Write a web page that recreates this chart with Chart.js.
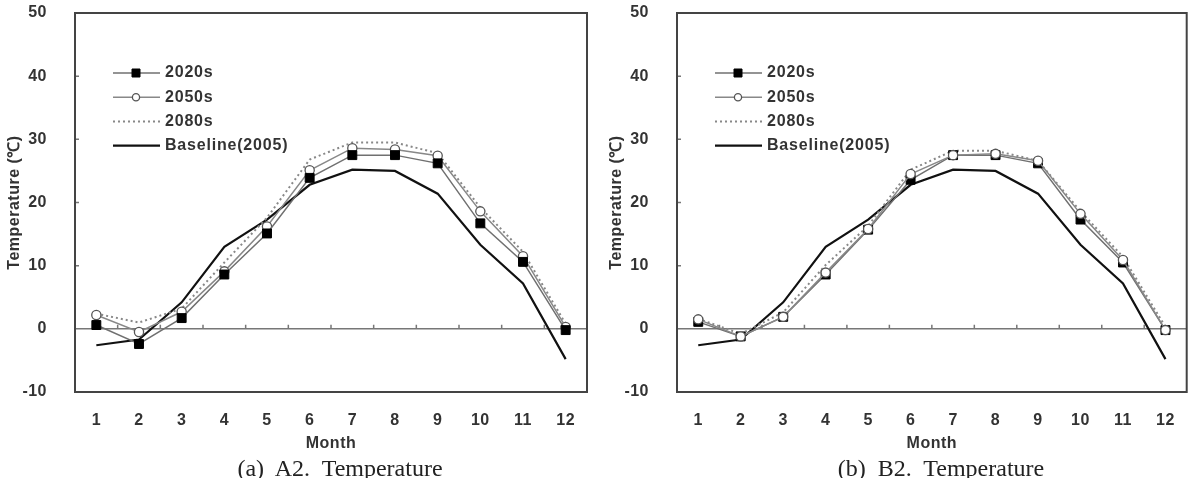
<!DOCTYPE html>
<html>
<head>
<meta charset="utf-8">
<script src="https://cdn.jsdelivr.net/npm/chart.js@4/dist/chart.umd.min.js"></script>
<style>
  html, body { margin: 0; padding: 0; background: #fff; }
  body { width: 1194px; height: 478px; overflow: hidden; position: relative; }
  .panel { position: absolute; top: 0; width: 597px; height: 478px; }
  .caption {
    position: absolute; top: 455px; width: 400px; text-align: center;
    font-family: "Liberation Serif", serif; font-size: 24px; color: #222;
    white-space: pre;
  }
</style>
</head>
<body>
<div class="panel" style="left:0"><canvas id="chartA"></canvas></div>
<div class="panel" style="left:597px"><canvas id="chartB"></canvas></div>
<div class="caption" style="left:140px">(a)  A2.  Temperature</div>
<div class="caption" style="left:741px">(b)  B2.  Temperature</div>
<script>
const months = ["1", "2", "3", "4", "5", "6", "7", "8", "9", "10", "11", "12"];
const seriesNames = ["2020s", "2050s", "2080s", "Baseline(2005)"];

const baseline = [-2.6, -1.7, 4.2, 13.0, 17.3, 22.8, 25.2, 25.0, 21.4, 13.3, 7.2, -4.8];

const a2_2020s = [0.6, -2.4, 1.7, 8.6, 15.1, 23.9, 27.5, 27.5, 26.2, 16.7, 10.6, -0.2];
const a2_2050s = [2.2, -0.5, 2.7, 9.1, 16.2, 25.1, 28.6, 28.4, 27.4, 18.6, 11.5, 0.3];
const a2_2080s = [2.4, 1.0, 3.2, 10.5, 17.6, 26.8, 29.5, 29.5, 27.8, 19.2, 12.2, 0.8];

const b2_2020s = [1.1, -1.2, 1.9, 8.6, 15.7, 23.6, 27.5, 27.5, 26.2, 17.3, 10.5, -0.2];
const b2_2050s = [1.5, -1.2, 1.9, 8.9, 15.8, 24.5, 27.5, 27.7, 26.6, 18.2, 10.9, -0.2];
const b2_2080s = [1.6, -0.8, 2.6, 10.1, 16.3, 25.2, 28.2, 28.2, 26.6, 18.6, 11.4, 0.3];

const FONT = "'Liberation Sans', Arial, sans-serif";

// zero line with small category ticks, inward y ticks, legend, frame
const axisLines = {
  id: "axisLines",
  beforeDraw(chart) {
    chart.ctx.letterSpacing = "0.5px";
  },
  beforeDatasetsDraw(chart) {
    const { ctx, chartArea: a, scales: { x, y } } = chart;
    const y0 = y.getPixelForValue(0);
    ctx.save();
    ctx.strokeStyle = "#777";
    ctx.lineWidth = 1.5;
    ctx.beginPath();
    ctx.moveTo(a.left, y0);
    ctx.lineTo(a.right, y0);
    for (let i = 0; i < months.length - 1; i++) {
      const tx = (x.getPixelForValue(i) + x.getPixelForValue(i + 1)) / 2;
      ctx.moveTo(tx, y0);
      ctx.lineTo(tx, y0 - 4);
    }
    y.ticks.forEach((t) => {
      const ty = y.getPixelForValue(t.value);
      ctx.moveTo(a.left, ty);
      ctx.lineTo(a.left + 4, ty);
    });
    ctx.stroke();
    ctx.restore();
  },
  afterDatasetsDraw(chart) {
    const { ctx, chartArea: a } = chart;
    const x0 = a.left + 38;
    let yy = a.top + 60;
    chart.data.datasets.forEach((ds) => {
      ctx.save();
      ctx.strokeStyle = ds.borderColor;
      ctx.lineWidth = ds.borderWidth;
      ctx.setLineDash(ds.borderDash || []);
      ctx.beginPath();
      ctx.moveTo(x0, yy);
      ctx.lineTo(x0 + 47, yy);
      ctx.stroke();
      ctx.setLineDash([]);
      if (ds.pointRadius > 0) {
        const cx = x0 + 23;
        ctx.fillStyle = ds.pointBackgroundColor;
        ctx.strokeStyle = ds.pointBorderColor;
        ctx.lineWidth = ds.pointBorderWidth;
        ctx.beginPath();
        if (ds.pointStyle === "rect") {
          ctx.rect(cx - 4, yy - 4, 8, 8);
        } else {
          ctx.arc(cx, yy, 3.6, 0, Math.PI * 2);
        }
        ctx.fill();
        ctx.stroke();
      }
      ctx.fillStyle = "#333";
      ctx.font = "bold 16px " + FONT;
      ctx.letterSpacing = "0.8px";
      ctx.textBaseline = "middle";
      ctx.fillText(ds.label, x0 + 52, yy);
      ctx.restore();
      yy += 24.2;
    });
  },
  afterDraw(chart) {
    const { ctx, chartArea: a } = chart;
    ctx.save();
    ctx.strokeStyle = "#444";
    ctx.lineWidth = 2;
    ctx.strokeRect(a.left, a.top, a.right - a.left, a.bottom - a.top);
    ctx.restore();
  },
};

function makeDatasets(s2020, s2050, s2080, squaresOnTop) {
  return [
    {
      label: seriesNames[0], data: s2020, order: squaresOnTop ? 0 : 1,
      borderColor: "#707070", borderWidth: 1.5,
      pointStyle: "rect", pointRadius: 6.3, pointBackgroundColor: "#000",
      pointBorderColor: "#000", pointBorderWidth: 1,
    },
    {
      label: seriesNames[1], data: s2050, order: squaresOnTop ? 1 : 0,
      borderColor: "#888", borderWidth: 1.5,
      pointStyle: "circle", pointRadius: 4.6, pointBackgroundColor: "#fff",
      pointBorderColor: "#555", pointBorderWidth: 1.3,
    },
    {
      label: seriesNames[2], data: s2080, order: 2,
      borderColor: "#888", borderWidth: 2, borderDash: [2, 3],
      pointRadius: 0,
    },
    {
      label: seriesNames[3], data: baseline, order: 3,
      borderColor: "#111", borderWidth: 2.2,
      pointRadius: 0,
    },
  ];
}

function makeChart(id, datasets, padLeft, padRight) {
  return new Chart(document.getElementById(id), {
    type: "line",
    data: { labels: months, datasets },
    options: {
      responsive: true,
      maintainAspectRatio: false,
      animation: false,
      layout: { padding: { top: 13, left: padLeft, right: padRight, bottom: 0 } },
      elements: { line: { tension: 0 } },
      plugins: { legend: { display: false }, tooltip: { enabled: false } },
      scales: {
        x: {
          offset: true,
          grid: { display: false },
          border: { display: false },
          ticks: { color: "#333", font: { family: FONT, size: 16, weight: "bold" }, padding: 11, maxRotation: 0 },
          title: {
            display: true, text: "Month", color: "#333",
            font: { family: FONT, size: 16, weight: "bold" },
            padding: { top: 4, bottom: 25 },
          },
          afterFit(scale) {
            scale.height = 86;
            scale.paddingLeft = 0;
            scale.paddingRight = 0;
          },
        },
        y: {
          min: -10, max: 50,
          grid: { display: false },
          border: { display: false },
          ticks: { stepSize: 10, color: "#333", font: { family: FONT, size: 16, weight: "bold" }, padding: 20 },
          title: {
            display: true, text: "Temperature (℃)", color: "#333",
            font: { family: FONT, size: 16, weight: "bold" },
            padding: { top: 0, bottom: 0 },
          },
          afterFit(scale) {
            scale.width = 70;
            scale.paddingTop = 0;
            scale.paddingBottom = 0;
          },
        },
      },
    },
    plugins: [axisLines],
  });
}

makeChart("chartA", makeDatasets(a2_2020s, a2_2050s, a2_2080s, true), 5, 10);
makeChart("chartB", makeDatasets(b2_2020s, b2_2050s, b2_2080s, false), 10, 5);
</script>
</body>
</html>
